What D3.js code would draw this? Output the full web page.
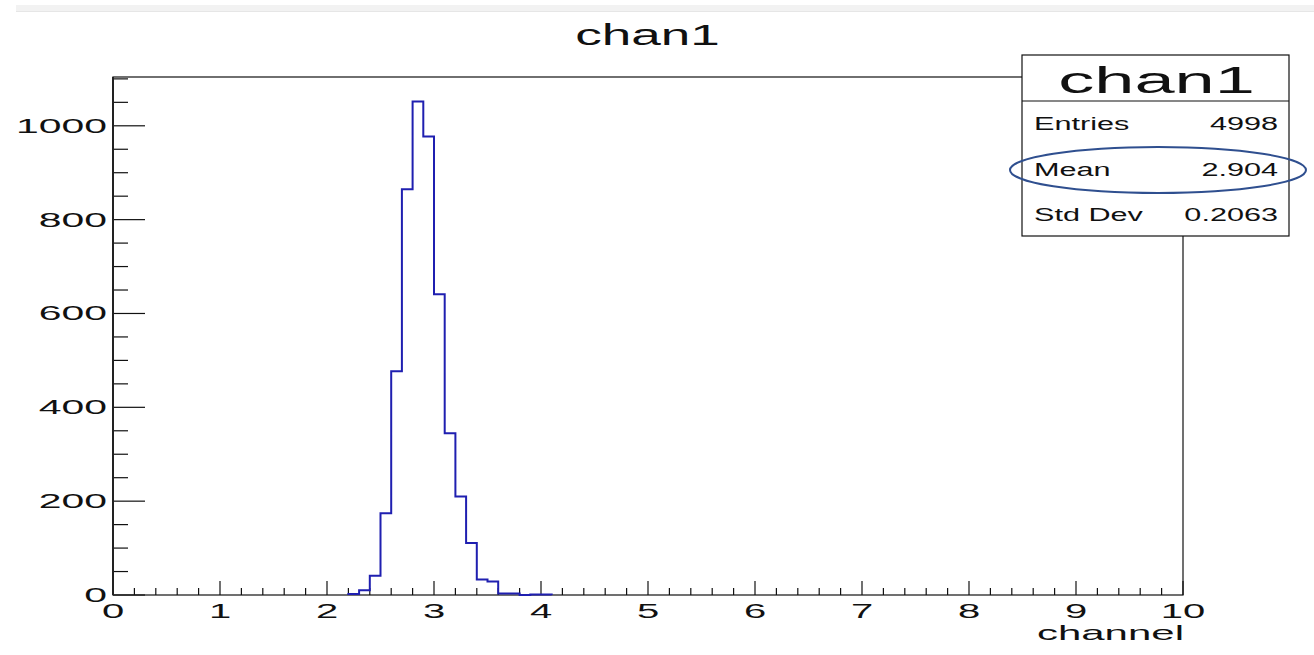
<!DOCTYPE html>
<html>
<head>
<meta charset="utf-8">
<script src="https://cdn.jsdelivr.net/npm/d3@7"></script>
<style>
  html, body { margin: 0; padding: 0; background: #fff; }
  svg { display: block; }
  text { font-family: "Liberation Sans", Arial, Helvetica, sans-serif; fill: #111; }
</style>
</head>
<body>
<svg id="chart" width="1314" height="655"></svg>
<script>
// ---- data ----
const histTitle = "chan1";
const xLabel = "channel";
const binLowEdges = [2.2, 2.3, 2.4, 2.5, 2.6, 2.7, 2.8, 2.9, 3.0, 3.1, 3.2, 3.3, 3.4, 3.5, 3.6, 3.7, 3.8, 3.9, 4.0];
const binCounts   = [2,   10,  41,  174, 477, 865, 1052, 977, 641, 345, 210, 111, 33,  29,  3,   3,   0,   1,   1];
const binWidth = 0.1;
const xTickValues = [0, 1, 2, 3, 4, 5, 6, 7, 8, 9, 10];
const yTickValues = [0, 200, 400, 600, 800, 1000];
const statNames  = ["Entries", "Mean", "Std Dev"];
const statValues = ["4998", "2.904", "0.2063"];

// ---- layout ----
const svg = d3.select("#chart");
const frame = { left: 113, top: 77, right: 1183, bottom: 595 };
const yMax = 1104;

const x = d3.scaleLinear().domain([0, 10]).range([frame.left, frame.right]);
const y = d3.scaleLinear().domain([0, yMax]).range([frame.bottom, frame.top]);

function stext(g, px, py, str, size, sx, anchor) {
  return g.append("text")
    .attr("transform", `translate(${px},${py}) scale(${sx},1)`)
    .attr("text-anchor", anchor)
    .style("font-size", size + "px")
    .text(str);
}

// top gray strip
svg.append("rect").attr("x", 16).attr("y", 5).attr("width", 1298).attr("height", 7).attr("fill", "#f2f2f2");
svg.append("line").attr("x1", 16).attr("x2", 1314).attr("y1", 11.5).attr("y2", 11.5).attr("stroke", "#e6e6e6");

// frame
svg.append("rect")
  .attr("x", frame.left).attr("y", frame.top)
  .attr("width", frame.right - frame.left).attr("height", frame.bottom - frame.top)
  .attr("fill", "none").attr("stroke", "#111").attr("stroke-width", 1.2);

// x axis ticks
const xMinor = d3.range(0, 10.0001, 0.2);
const gx = svg.append("g");
xMinor.forEach(v => {
  const isMajor = Math.abs(v - Math.round(v)) < 1e-6;
  gx.append("line")
    .attr("x1", x(v)).attr("x2", x(v))
    .attr("y1", frame.bottom).attr("y2", frame.bottom - (isMajor ? 14 : 7))
    .attr("stroke", "#111").attr("stroke-width", 1.2);
});
xTickValues.forEach(v => {
  stext(gx, x(v) - (v === 0 ? 0 : 0), 617.5, String(v), 19.5, 2.05, "middle");
});
stext(gx, frame.right + 1, 640, xLabel, 21, 2.0, "end");

// y axis ticks
const gy = svg.append("g");
d3.range(0, yMax + 0.1, 50).forEach(v => {
  const isMajor = v % 200 === 0;
  gy.append("line")
    .attr("x1", frame.left).attr("x2", frame.left + (isMajor ? 32 : 15))
    .attr("y1", y(v)).attr("y2", y(v))
    .attr("stroke", "#111").attr("stroke-width", 1.2);
});
yTickValues.forEach(v => {
  stext(gy, 107, y(v) + 7, String(v), 19.5, 2.1, "end");
});
// thicker y axis line
svg.append("line").attr("x1", frame.left).attr("x2", frame.left)
  .attr("y1", frame.top).attr("y2", frame.bottom).attr("stroke", "#222").attr("stroke-width", 2);

// histogram
const pts = binLowEdges.map((e, i) => [e, binCounts[i]]);
pts.unshift([binLowEdges[0], 0]);
pts.push([binLowEdges[binLowEdges.length - 1] + binWidth, binCounts[binCounts.length - 1]]);
pts.push([binLowEdges[binLowEdges.length - 1] + binWidth, 0]);
const line = d3.line().x(d => x(d[0])).y(d => y(d[1])).curve(d3.curveStepAfter);
svg.append("path").attr("d", line(pts))
  .attr("fill", "none").attr("stroke", "#1f1fb0").attr("stroke-width", 2);

// title
stext(svg, 647.5, 45, histTitle, 30, 1.77, "middle");

// stats box
const box = { x: 1022, y: 55, w: 267, h: 181 };
svg.append("rect").attr("x", box.x).attr("y", box.y).attr("width", box.w).attr("height", box.h)
  .attr("fill", "#fff").attr("stroke", "#111").attr("stroke-width", 1.2);
svg.append("line").attr("x1", box.x).attr("x2", box.x + box.w).attr("y1", 101).attr("y2", 101)
  .attr("stroke", "#111").attr("stroke-width", 1.2);
stext(svg, 1156.5, 92.7, histTitle, 37, 1.95, "middle");
const rowBase = [130, 175.5, 220.7];
statNames.forEach((n, i) => {
  stext(svg, 1034, rowBase[i], n, 17.6, 1.74, "start");
  stext(svg, 1278, rowBase[i], statValues[i], 17.6, 1.74, "end");
});

// highlight ellipse
svg.append("ellipse").attr("cx", 1158).attr("cy", 170).attr("rx", 148).attr("ry", 23)
  .attr("fill", "none").attr("stroke", "#2f4f8f").attr("stroke-width", 2);
</script>
</body>
</html>
